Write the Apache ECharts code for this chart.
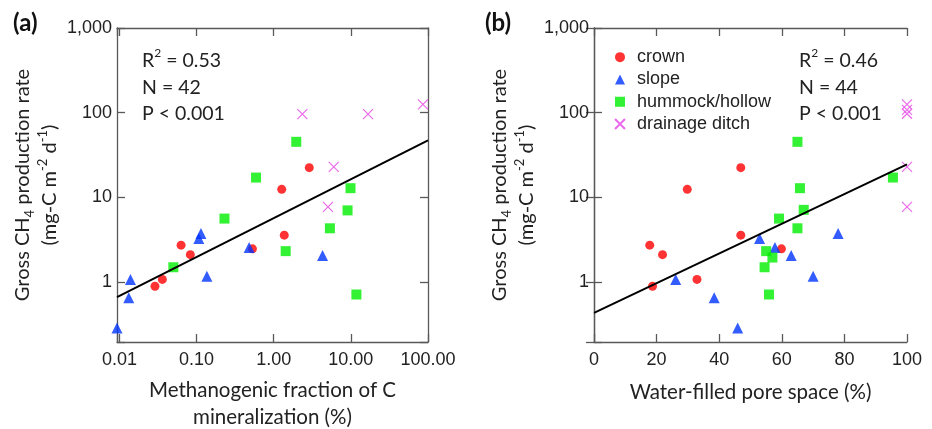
<!DOCTYPE html>
<html>
<head>
<meta charset="utf-8">
<script src="https://cdn.jsdelivr.net/npm/echarts@6/dist/echarts.min.js"></script>
<style>
  html, body { margin: 0; padding: 0; background: #fff; }
  #chart { width: 932px; height: 429px; }
</style>
</head>
<body>
<div id="chart"></div>
<script>
// panel (a): methanogenic fraction (%) vs gross CH4 production
const crownA = [[0.0289, 0.89], [0.036, 1.07], [0.063, 2.72], [0.083, 2.1], [0.53, 2.46], [1.27, 12.4], [1.37, 3.57], [2.89, 22.4]];
const slopeA = [[0.0093, 0.286], [0.0132, 0.65], [0.0139, 1.07], [0.107, 3.26], [0.114, 3.73], [0.136, 1.17], [0.48, 2.55], [4.3, 2.05]];
const hummockA = [[0.05, 1.49], [0.23, 5.6], [0.59, 17.1], [1.43, 2.31], [1.96, 45.2], [5.35, 4.3], [9.06, 7.0], [9.9, 12.8], [11.8, 0.71]];
const ditchA = [[2.35, 96], [5.05, 7.7], [6.0, 22.9], [16.7, 96], [86, 125]];
const fitA = [[0.0093, 0.66], [100, 47]];

// panel (b): water-filled pore space (%) vs gross CH4 production
const crownB = [[17.8, 2.72], [18.7, 0.89], [21.9, 2.1], [29.8, 12.4], [32.9, 1.07], [46.9, 22.4], [46.9, 3.57], [59.9, 2.46]];
const slopeB = [[26.1, 1.07], [38.4, 0.65], [45.9, 0.286], [52.9, 3.26], [57.8, 2.55], [63.0, 2.05], [70.0, 1.17], [78.0, 3.73]];
const hummockB = [[54.5, 1.49], [55.0, 2.31], [55.9, 0.71], [57.0, 1.94], [59.1, 5.6], [65.0, 45.2], [65.0, 4.3], [65.8, 12.8], [67.0, 7.1], [95.5, 17.1]];
const ditchB = [[100, 7.7], [100, 22.9], [100, 97], [100, 108], [100, 125]];
const fitB = [[0, 0.43], [100, 24.5]];

const statsA = ["R{sup|2} = 0.53", "N = 42", "P < 0.001"];
const statsB = ["R{sup|2} = 0.46", "N = 44", "P < 0.001"];
const groupNames = ["crown", "slope", "hummock/hollow", "drainage ditch"];

const Y_MIN = 0.195, Y_MAX = 1000;
const XA_MIN = 0.0093, XA_MAX = 100;

const AXIS_COLOR = "#595959";
const TICK_FONT = "Liberation Sans";
const TITLE_FONT = "Lato";
const CROSS = "path://M0,0L10,10M10,0L0,10";

const isPow10 = (v) => {
  const l = Math.log10(v);
  return Math.abs(l - Math.round(l)) < 1e-6;
};

const axisLine = { lineStyle: { color: AXIS_COLOR, width: 1.3 } };
const tick = { inside: true, length: 8, lineStyle: { color: AXIS_COLOR, width: 1.3 } };

const yLeft = (gridIndex) => ({
  gridIndex,
  type: "log",
  min: Y_MIN,
  max: Y_MAX,
  axisLine,
  axisTick: tick,
  splitLine: { show: false },
  axisLabel: {
    margin: 5,
    color: "#222",
    fontFamily: TICK_FONT,
    fontSize: 18,
    formatter: (v) => (isPow10(v) ? Math.round(v).toLocaleString("en-US") : ""),
  },
  name: "Gross CH{sub|4} production rate\n(mg-C m{sup|-2} d{sup|-1})",
  nameLocation: "middle",
  nameGap: 40,
  nameTextStyle: {
    color: "#222",
    fontFamily: TITLE_FONT,
    fontSize: 20,
    lineHeight: 27,
    rich: {
      sub: { fontFamily: TITLE_FONT, fontSize: 13, verticalAlign: "bottom", lineHeight: 14, color: "#222" },
      sup: { fontFamily: TITLE_FONT, fontSize: 13, verticalAlign: "top", lineHeight: 14, color: "#222" },
    },
  },
});

const yRight = (gridIndex) => ({
  gridIndex,
  type: "log",
  position: "right",
  min: Y_MIN,
  max: Y_MAX,
  axisLine,
  axisTick: tick,
  axisLabel: { show: false },
  splitLine: { show: false },
});

const xLogA = (position) => ({
  gridIndex: 0,
  type: "log",
  position,
  min: XA_MIN,
  max: XA_MAX,
  axisLine,
  axisTick: tick,
  splitLine: { show: false },
  axisLabel: position === "bottom"
    ? {
        margin: 9,
        color: "#222",
        fontFamily: TICK_FONT,
        fontSize: 18,
        formatter: (v) => (isPow10(v) && v >= 0.01 ? v.toFixed(2) : ""),
      }
    : { show: false },
});

const xLinB = (position) => ({
  gridIndex: 1,
  type: "value",
  position,
  min: 0,
  max: 100,
  interval: 20,
  axisLine,
  axisTick: tick,
  splitLine: { show: false },
  axisLabel: position === "bottom"
    ? { margin: 9, color: "#222", fontFamily: TICK_FONT, fontSize: 18 }
    : { show: false },
});

const xNameStyle = { color: "#222", fontFamily: TITLE_FONT, fontSize: 20.5, lineHeight: 27 };

const scatter = (name, data, xi, yi, symbol, size, color) => ({
  name,
  type: "scatter",
  xAxisIndex: xi,
  yAxisIndex: yi,
  data,
  symbol,
  symbolSize: size,
  itemStyle: symbol === CROSS
    ? { color: "transparent", borderColor: color, borderWidth: 1.2 }
    : { color },
});

const fitLine = (data, xi, yi) => ({
  type: "line",
  xAxisIndex: xi,
  yAxisIndex: yi,
  data,
  symbol: "none",
  silent: true,
  lineStyle: { color: "#000", width: 2 },
  z: 5,
});

const statsText = (left, lines) => ({
  type: "text",
  left,
  top: 47.5,
  style: {
    text: lines.join("\n"),
    fontFamily: TITLE_FONT,
    fontSize: 19.5,
    lineHeight: 26.5,
    fill: "#222",
    rich: {
      sup: { fontFamily: TITLE_FONT, fontSize: 12, verticalAlign: "top", lineHeight: 16, fill: "#222" },
    },
  },
});

const option = {
  animation: false,
  backgroundColor: "#fff",
  grid: [
    { left: 117, top: 28, width: 311, height: 314, outerBoundsMode: "none" },
    { left: 594, top: 28, width: 313, height: 314, outerBoundsMode: "none" },
  ],
  xAxis: [
    { ...xLogA("bottom"), name: "Methanogenic fraction of C\nmineralization (%)", nameLocation: "middle", nameGap: 35, nameTextStyle: xNameStyle },
    xLogA("top"),
    { ...xLinB("bottom"), name: "Water-filled pore space (%)", nameLocation: "middle", nameGap: 37, nameTextStyle: xNameStyle },
    xLinB("top"),
  ],
  yAxis: [yLeft(0), yRight(0), yLeft(1), yRight(1)],
  legend: {
    orient: "vertical",
    left: 614,
    top: 46,
    padding: 0,
    itemWidth: 10,
    itemHeight: 10,
    itemGap: 0,
    data: groupNames,
    textStyle: { fontFamily: TICK_FONT, fontSize: 18, lineHeight: 22.3, color: "#222", padding: [0, 0, 0, 7] },
  },
  graphic: [
    { type: "text", left: 13, top: 11, style: { text: "(a)", fontFamily: TITLE_FONT, fontWeight: "bold", fontSize: 24, fill: "#111" } },
    { type: "text", left: 485, top: 11, style: { text: "(b)", fontFamily: TITLE_FONT, fontWeight: "bold", fontSize: 24, fill: "#111" } },
    statsText(142, statsA),
    statsText(799, statsB),
  ],
  series: [
    scatter("crown", crownA, 0, 0, "circle", 9, "#ff0000"),
    scatter("slope", slopeA, 0, 0, "triangle", 11, "#0033ff"),
    scatter("hummock/hollow", hummockA, 0, 0, "rect", 10, "#00ee00"),
    scatter("drainage ditch", ditchA, 0, 0, CROSS, 10, "#e645e6"),
    fitLine(fitA, 0, 0),
    scatter("crown", crownB, 2, 2, "circle", 9, "#ff0000"),
    scatter("slope", slopeB, 2, 2, "triangle", 11, "#0033ff"),
    scatter("hummock/hollow", hummockB, 2, 2, "rect", 10, "#00ee00"),
    scatter("drainage ditch", ditchB, 2, 2, CROSS, 10, "#e645e6"),
    fitLine(fitB, 2, 2),
  ],
};

const chart = echarts.init(document.getElementById("chart"));
chart.setOption(option);
</script>
</body>
</html>
